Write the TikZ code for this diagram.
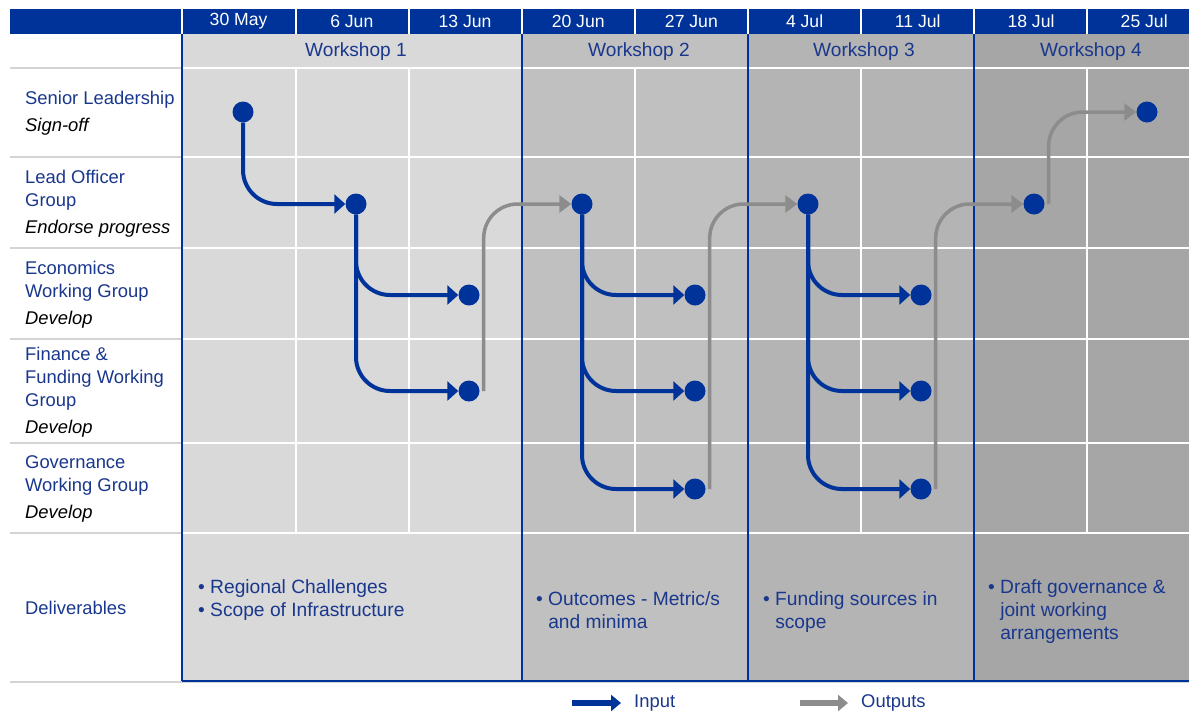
\documentclass[tikz,border=0pt]{standalone}
\usepackage{fontspec}
\setmainfont{Liberation Sans}
\usetikzlibrary{arrows.meta}
\definecolor{hdrblue}{RGB}{0,51,153}
\definecolor{txtblue}{RGB}{25,55,140}
\definecolor{wsone}{RGB}{217,217,217}
\definecolor{wstwo}{RGB}{192,192,192}
\definecolor{wsthree}{RGB}{180,180,180}
\definecolor{wsfour}{RGB}{166,166,166}
\definecolor{outgray}{RGB}{140,140,140}
\definecolor{rulegray}{RGB}{212,212,212}

\begin{document}
\begin{tikzpicture}[x=1pt,y=-1pt,
  every node/.style={font=\fontsize{18.4}{23}\selectfont,inner sep=0pt},
  dot/.style={circle,fill=hdrblue,minimum size=21pt},
  inarrow/.style={line width=4pt,hdrblue,rounded corners=34pt,-{Triangle[length=11pt,width=19pt]}},
  outarrow/.style={line width=3.5pt,outgray,rounded corners=34pt,-{Triangle[length=12pt,width=17pt]}},
  rowlab/.style={anchor=west,align=left,text=txtblue},
  datelab/.style={text=white,font=\fontsize{17.6}{20}\selectfont},
  wslab/.style={text=txtblue,font=\fontsize{19.1}{23}\selectfont},
  dellab/.style={anchor=north west,align=left,text=txtblue,font=\fontsize{19.2}{23}\selectfont}]
  \useasboundingbox (0,0) rectangle (1189,713);
  % workshop shading
  \fill[wsone] (182,34) rectangle (522,681);
  \fill[wstwo] (522,34) rectangle (748,681);
  \fill[wsthree] (748,34) rectangle (974,681);
  \fill[wsfour] (974,34) rectangle (1189,681);
  % header bar
  \fill[hdrblue] (10,9) rectangle (1189,34);
  \foreach \x in {182,296,409,522,635,748,861,974,1087}
    \draw[white,line width=1.2pt] (\x,9) -- (\x,34);
  % grid lines
  \foreach \x in {296,409,635,861,1087}
    \draw[white,line width=1.5pt] (\x,68) -- (\x,533);
  \foreach \y in {68,157,248,339,443,533} {
    \draw[rulegray,line width=2pt] (10,\y) -- (182,\y);
    \draw[white,line width=1.5pt] (182,\y) -- (1189,\y);
  }
  \draw[rulegray,line width=2.5pt] (10,682) -- (1189,682);
  \foreach \x in {182,522,748,974}
    \draw[hdrblue,line width=1.2pt] (\x,34) -- (\x,681);
  \draw[hdrblue,line width=1.2pt] (182,681) -- (1189,681);

  % dates and workshops
  \foreach \i/\d in {1/30 May,2/6 Jun,3/13 Jun,4/20 Jun,5/27 Jun,6/4 Jul,7/11 Jul,8/18 Jul,9/25 Jul}
    \node[datelab] (dt\i) at ({125.4+113.2*\i},21) {\d};
  \node[wslab] (w1) at (356,52) {Workshop 1};
  \node[wslab] (w2) at (639,52) {Workshop 2};
  \node[wslab] (w3) at (864,52) {Workshop 3};
  \node[wslab] (w4) at (1091,52) {Workshop 4};

  % row labels
  \node[rowlab] (r1) at (25,113) {Senior Leadership\\[4pt]{\color{black}\itshape Sign-off}};
  \node[rowlab] (r2) at (25,204) {Lead Officer\\Group\\[4pt]{\color{black}\itshape Endorse progress}};
  \node[rowlab] (r3) at (25,295) {Economics\\Working Group\\[4pt]{\color{black}\itshape Develop}};
  \node[rowlab] (r4) at (25,392) {Finance \&\\Funding Working\\Group\\[4pt]{\color{black}\itshape Develop}};
  \node[rowlab] (r5) at (25,489) {Governance\\Working Group\\[4pt]{\color{black}\itshape Develop}};
  \node[rowlab] (r6) at (25,608) {Deliverables};

  % milestones
  \node[dot] (s1) at (243,112) {};
  \node[dot] (l1) at (356,204) {};
  \node[dot] (e1) at (469,295) {};
  \node[dot] (f1) at (469,391) {};
  \node[dot] (l2) at (582,204) {};
  \node[dot] (e2) at (695,295) {};
  \node[dot] (f2) at (695,391) {};
  \node[dot] (g2) at (695,489) {};
  \node[dot] (l3) at (808,204) {};
  \node[dot] (e3) at (921,295) {};
  \node[dot] (f3) at (921,391) {};
  \node[dot] (g3) at (921,489) {};
  \node[dot] (l4) at (1034,204) {};
  \node[dot] (s2) at (1147,112) {};

  % inputs
  \draw[inarrow] (s1) |- (l1);
  \draw[inarrow] (l1) |- (e1); \draw[inarrow] (l1) |- (f1);
  \foreach \k in {e2,f2,g2} \draw[inarrow] (l2) |- (\k);
  \foreach \k in {e3,f3,g3} \draw[inarrow] (l3) |- (\k);
  % outputs
  \draw[outarrow] ([xshift=4pt]f1.east) |- (l2);
  \draw[outarrow] ([xshift=4pt]g2.east) |- (l3);
  \draw[outarrow] ([xshift=4pt]g3.east) |- (l4);
  \draw[outarrow] ([xshift=4pt]l4.east) |- (s2);

  % deliverables
  \node[dellab] (del1) at (198,579) {• Regional Challenges\\• Scope of Infrastructure};
  \node[dellab] (del2) at (536,591) {• Outcomes - Metric/s\\\phantom{• }and minima};
  \node[dellab] (del3) at (763,591) {• Funding sources in\\\phantom{• }scope};
  \node[dellab] (del4) at (988,579) {• Draft governance \&\\\phantom{• }joint working\\\phantom{• }arrangements};

  % legend
  \node[rowlab] (inlab) at (634,703) {Input};
  \node[rowlab] (outlab) at (861,703) {Outputs};
  \coordinate (instart) at (572,703);
  \coordinate (outstart) at (800,703);
  \draw[line width=6.5pt,hdrblue,-{Triangle[length=10pt,width=16pt]}] (instart) -- ([xshift=-13pt]inlab.west);
  \draw[line width=6.5pt,outgray,-{Triangle[length=10pt,width=16pt]}] (outstart) -- ([xshift=-13pt]outlab.west);
\end{tikzpicture}
\end{document}
